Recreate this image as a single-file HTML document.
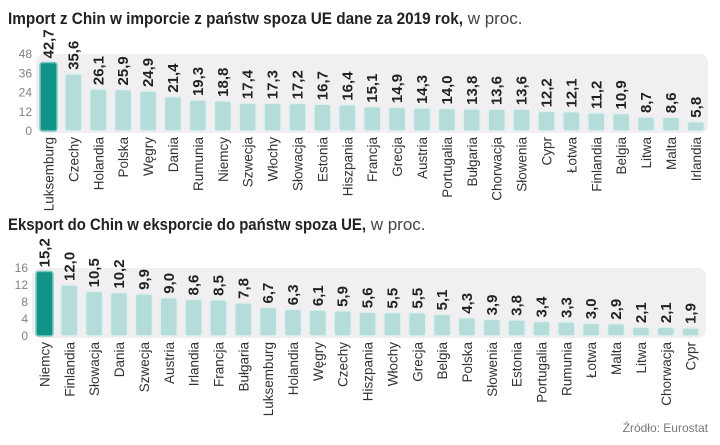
<!DOCTYPE html>
<html><head><meta charset="utf-8"><style>
html,body{margin:0;padding:0;background:#fff;}
svg{display:block;font-family:"Liberation Sans",sans-serif;}
</style></head><body>
<svg id="c" width="720" height="445" xmlns="http://www.w3.org/2000/svg">
<text x="8" y="24" font-size="17"><tspan font-weight="bold" fill="#222" textLength="455" lengthAdjust="spacingAndGlyphs">Import z Chin w imporcie z państw spoza UE dane za 2019 rok,</tspan><tspan fill="#444"> w proc.</tspan></text>
<text x="8" y="230" font-size="17"><tspan font-weight="bold" fill="#222" textLength="358" lengthAdjust="spacingAndGlyphs">Eksport do Chin w eksporcie do państw spoza UE,</tspan><tspan fill="#444"> w proc.</tspan></text>
<text x="708" y="432" font-size="12" fill="#777" text-anchor="end">Źródło: Eurostat</text>
<g id="g1"></g><g id="g2"></g>
</svg>
<script>
const cats1=["Luksemburg","Czechy","Holandia","Polska","Węgry","Dania","Rumunia","Niemcy","Szwecja","Włochy","Słowacja","Estonia","Hiszpania","Francja","Grecja","Austria","Portugalia","Bułgaria","Chorwacja","Słowenia","Cypr","Łotwa","Finlandia","Belgia","Litwa","Malta","Irlandia"];
const vals1=[42.7,35.6,26.1,25.9,24.9,21.4,19.3,18.8,17.4,17.3,17.2,16.7,16.4,15.1,14.9,14.3,14.0,13.8,13.6,13.6,12.2,12.1,11.2,10.9,8.7,8.6,5.8];
const ticks1=[0,12,24,36,48];
const cats2=["Niemcy","Finlandia","Słowacja","Dania","Szwecja","Austria","Irlandia","Francja","Bułgaria","Luksemburg","Holandia","Węgry","Czechy","Hiszpania","Włochy","Grecja","Belgia","Polska","Słowenia","Estonia","Portugalia","Rumunia","Łotwa","Malta","Litwa","Chorwacja","Cypr"];
const vals2=[15.2,12.0,10.5,10.2,9.9,9.0,8.6,8.5,7.8,6.7,6.3,6.1,5.9,5.6,5.5,5.5,5.1,4.3,3.9,3.8,3.4,3.3,3.0,2.9,2.1,2.1,1.9];
const ticks2=[0,4,8,12,16];
const NS="http://www.w3.org/2000/svg";
function mk(p,t,a){const e=document.createElementNS(NS,t);for(const k in a)e.setAttribute(k,a[k]);p.appendChild(e);return e;}
function draw(gid,cats,vals,ticks,o){
  const g=document.getElementById(gid);
  const max=ticks[ticks.length-1];
  const y=v=>o.y0-(v/max)*(o.y0-o.yTop);
  const x=i=>o.x0+i*o.pitch;
  const panel=mk(g,'rect',{x:o.x0-4,y:o.yTop,width:o.panelR-o.x0+4,height:o.y0-o.yTop+2,rx:8,fill:'#f1eff2'});
  
  
  ticks.forEach(t=>{
    const tx=mk(g,'text',{x:o.x0-8,y:y(t)+4,'font-size':12,fill:'#808080','text-anchor':'end'});
    tx.textContent=t;
    
    
  });
  cats.forEach((c,i)=>{
    const bx=x(i),by=y(vals[i]);
    const r=mk(g,'rect',{x:bx,y:by,width:o.bw,height:o.y0-by,rx:2.5,fill:i===0?'#109488':'#b4dcd9',stroke:i===0?'#7cc8c0':'#e2f1ef','stroke-width':1.5});
    
    
    const cx=bx+o.bw/2+5;
    const v=mk(g,'text',{x:0,y:0,'font-size':15,'font-weight':'bold',fill:'#222',transform:`translate(${cx},${by-4}) rotate(-90)`});
    v.textContent=vals[i].toFixed(1).replace('.',',');
    
    
    const l=mk(g,'text',{x:0,y:0,'font-size':13.5,fill:'#333','text-anchor':'end',transform:`translate(${cx},${o.y0+6}) rotate(-90)`});
    l.textContent=c;
    
    
  });
}
draw('g1',cats1,vals1,ticks1,{x0:40,pitch:24.9,bw:17,y0:131,yTop:54,panelR:708});
draw('g2',cats2,vals2,ticks2,{x0:36,pitch:24.85,bw:17,y0:336,yTop:268,panelR:706});
</script>
</body></html>
